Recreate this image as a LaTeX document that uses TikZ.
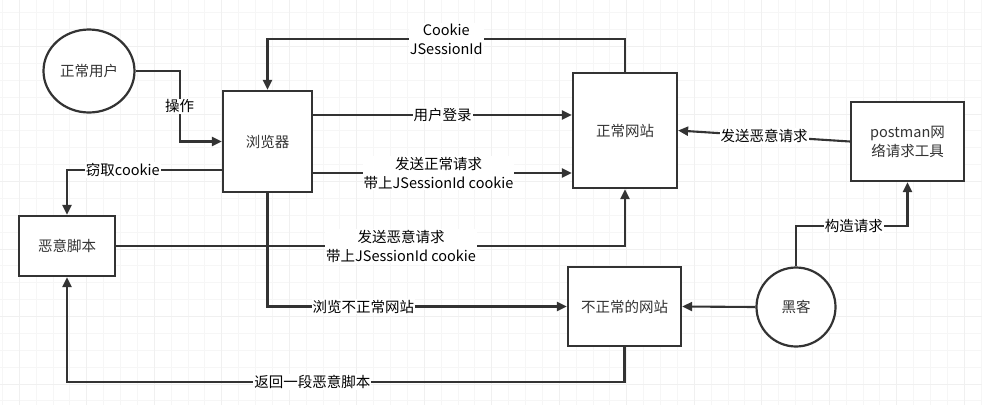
\documentclass[tikz,border=0pt]{standalone}
\usepackage{fontspec}
\setmainfont{Noto Sans CJK SC}
\usetikzlibrary{arrows.meta, positioning, shapes.geometric}
\definecolor{ink}{HTML}{333333}

\begin{document}
\begin{tikzpicture}[
    x=1pt, y=-1pt,
    >={Triangle[length=10pt, width=9pt]},
    every node/.style={font=\fontsize{14.5}{19}\selectfont, text=ink},
    box/.style={draw=ink, line width=2.2pt, fill=white, align=center},
    actor/.style={box, ellipse, inner sep=0pt},
    flow/.style={->, draw=ink, line width=2.1pt},
    lbl/.style={fill=white, inner sep=1pt, align=center, text=black}
  ]
  \fill[white] (0,0) rectangle (982,405);
  \useasboundingbox (0,0) rectangle (982,405);

  % background grid
  \foreach \x in {2.3, 19.175, ..., 982}
    \draw[gray!7, line width=0.8pt] (\x,0) -- (\x,405);
  \foreach \y in {12.75, 29.625, ..., 405}
    \draw[gray!7, line width=0.8pt] (0,\y) -- (982,\y);
  \foreach \x in {19.2, 86.7, ..., 982}
    \draw[gray!12, line width=0.8pt] (\x,0) -- (\x,405);
  \foreach \y in {46.5, 114, ..., 405}
    \draw[gray!12, line width=0.8pt] (0,\y) -- (982,\y);

  \node[actor, minimum width=91pt, minimum height=83pt] (user) at (89,71) {正常用户};
  \node[box, minimum width=89pt, minimum height=101pt] (browser) at (267.5,141.5) {浏览器};
  \node[box, minimum width=104pt, minimum height=115pt] (site) at (625,130.5) {正常网站};
  \node[box, minimum width=96pt, minimum height=60pt] (script) at (67,246) {恶意脚本};
  \node[box, minimum width=113pt, minimum height=79pt] (badsite) at (624.5,306.5) {不正常的网站};
  \node[actor, circle, minimum size=79pt] (hacker) at (796,307) {黑客};
  \node[box, minimum width=113pt, minimum height=79pt] (postman) at (907.5,141.5)
    {postman网\\络请求工具};

  % normal user side
  \draw[flow] (user.east) -- ++(44,0) |- (browser.west)
    node[pos=0.25, lbl] {操作};
  \draw[flow] (site.north) -- ++(0,-33) -| (browser.north)
    node[pos=0.25, lbl] {Cookie\\JSessionId};
  \draw[flow] ([yshift=26.5pt]browser.east) -- ([yshift=26.5pt]browser.east -| site.west)
    node[midway, lbl] {用户登录};
  \draw[flow] ([yshift=-31.5pt]browser.east) -- ([yshift=-31.5pt]browser.east -| site.west)
    node[midway, lbl, xshift=-4pt] {发送正常请求\\带上JSessionId cookie};

  % attack path
  \draw[flow] ([yshift=-28.5pt]browser.west) -| (script.north)
    node[pos=0.32, lbl] {窃取cookie};
  \draw[flow] (script.east) -| (site.south)
    node[pos=0.28, lbl] {发送恶意请求\\带上JSessionId cookie};
  \draw[flow] (browser.south) |- (badsite.west)
    node[pos=0.66, lbl] {浏览不正常网站};
  \draw[flow] (badsite.south) -- ++(0,35) -| (script.south)
    node[pos=0.28, lbl] {返回一段恶意脚本};

  % hacker
  \draw[flow] (hacker.west) -- (badsite.east);
  \draw[flow] (hacker.north) -- ++(0,-40) -| (postman.south)
    node[pos=0.26, lbl] {构造请求};
  \draw[flow] (postman.west) -- (site.east)
    node[midway, lbl] {发送恶意请求};
\end{tikzpicture}
\end{document}
